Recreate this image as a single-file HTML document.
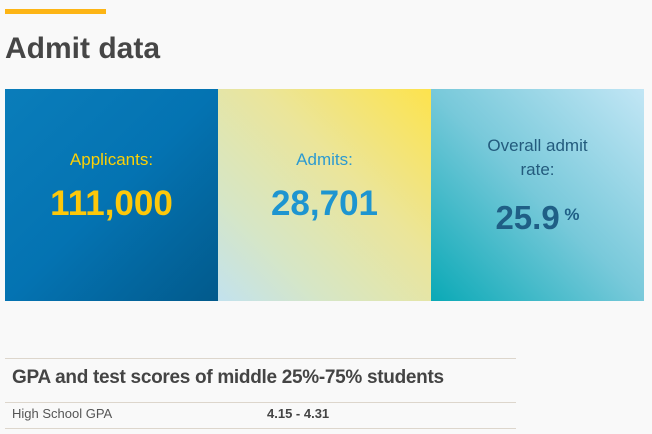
<!DOCTYPE html>
<html><head><meta charset="utf-8"><style>
body{margin:0;width:652px;height:434px;background:#f9f9f9;font-family:"Liberation Sans",sans-serif;position:relative;overflow:hidden;color:#444}
.a{position:absolute}
.p{position:absolute;top:89px;width:213px;height:212px;text-align:center}
</style></head><body>
<div class="a" style="left:5px;top:9px;width:101px;height:5px;background:#fdb515"></div>
<div class="a" style="left:5px;top:32px;font-size:30px;font-weight:bold;color:#464646">Admit data</div>
<div class="p" style="left:5px;background:linear-gradient(135deg,#0a7dba 0%,#0473b2 50%,#025a8c 100%)">
 <div class="a" style="left:0;right:0;top:61px;font-size:17px;color:#fdd105">Applicants:</div>
 <div class="a" style="left:0;right:0;top:95px;font-size:35px;font-weight:bold;color:#fdc80a">111,000</div>
</div>
<div class="p" style="left:218px;background:linear-gradient(225deg,#fde34d 0%,#ebe59a 40%,#d6e6c6 75%,#c2e2ee 100%)">
 <div class="a" style="left:0;right:0;top:61px;font-size:17px;color:#2c9ad0">Admits:</div>
 <div class="a" style="left:0;right:0;top:95px;font-size:35px;font-weight:bold;color:#1e95d0">28,701</div>
</div>
<div class="p" style="left:431px;background:linear-gradient(225deg,#c2e6f5 0%,#78c9da 50%,#0aa9b6 100%)">
 <div class="a" style="left:0;right:0;top:45px;font-size:17px;line-height:24px;color:#235b7d">Overall admit<br>rate:</div>
 <div class="a" style="left:0;right:0;top:110px;font-size:33px;font-weight:bold;color:#1f5f86">25.9<span style="font-size:17px;vertical-align:9px"> %</span></div>
</div>
<div class="a" style="left:5px;top:358px;width:511px;height:1px;background:#ddd6cc"></div>
<div class="a" style="left:12px;top:367px;font-size:19px;font-weight:bold;color:#444;letter-spacing:-0.3px">GPA and test scores of middle 25%-75% students</div>
<div class="a" style="left:5px;top:402px;width:511px;height:1px;background:#ddd6cc"></div>
<div class="a" style="left:12px;top:406px;font-size:13px;color:#555">High School GPA</div>
<div class="a" style="left:267px;top:406px;font-size:13px;font-weight:bold;color:#444">4.15 - 4.31</div>
<div class="a" style="left:5px;top:428px;width:511px;height:1px;background:#ddd6cc"></div>
</body></html>
